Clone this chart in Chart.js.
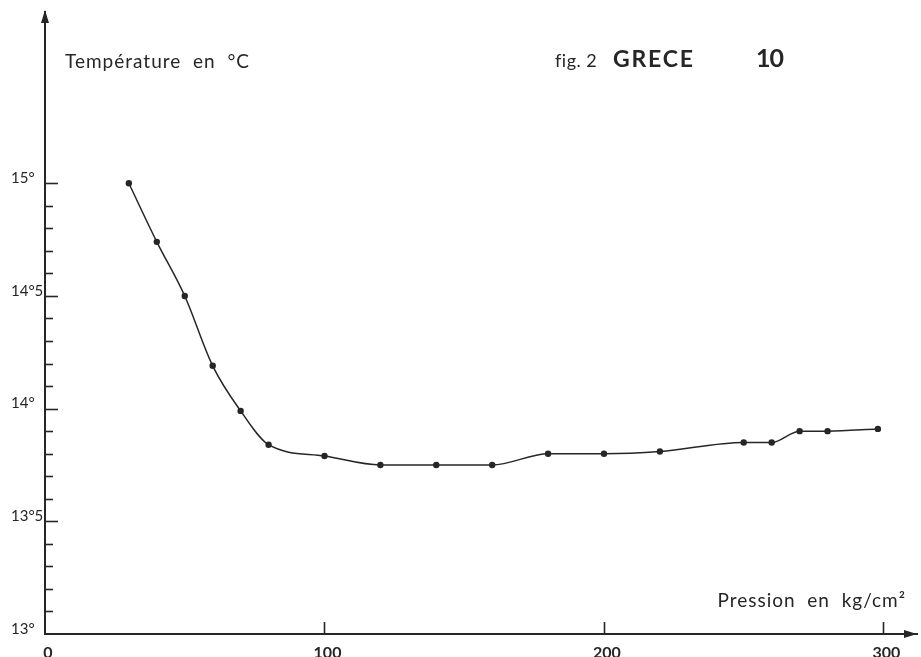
<!DOCTYPE html>
<html lang="fr">
<head>
<meta charset="utf-8">
<title>fig. 2 GRECE</title>
<script src="https://cdn.jsdelivr.net/npm/chart.js@4/dist/chart.umd.min.js"></script>
<style>
  html, body { margin: 0; padding: 0; background: #fff; overflow: hidden; }
  #wrap { position: relative; width: 921px; height: 670px; }
</style>
</head>
<body>
<div id="wrap"><canvas id="courbe"></canvas></div>
<script>
// pression (kg/cm2) / température (°C)
const pressions = [30, 40, 50, 60, 70, 80, 100, 120, 140, 160, 180, 200, 220, 250, 260, 270, 280, 298];
const temperatures = [15.0, 14.74, 14.5, 14.19, 13.99, 13.84, 13.79, 13.75, 13.75, 13.75, 13.80, 13.80, 13.81, 13.85, 13.85, 13.90, 13.90, 13.91];
const ticksPression = [0, 100, 200, 300];
const ticksTemperature = [13, 13.5, 14, 14.5, 15];

const encre = '#262626';
const police = 'Lato, "DejaVu Sans", sans-serif';

function etiquetteTemp(v) {
  const deg = Math.floor(v + 1e-9);
  return Math.abs(v - deg) < 1e-6 ? deg + '°' : deg + '°5';
}

function texte(ctx, str, x, y, font, espace) {
  ctx.font = font;
  ctx.letterSpacing = espace + 'px';
  ctx.fillText(str, x, y);
}

// graduations, flèches et textes de la planche
const habillage = {
  id: 'habillage',
  afterDraw(chart) {
    const { ctx, chartArea: ca, scales: { x, y } } = chart;
    ctx.save();
    ctx.strokeStyle = encre;
    ctx.fillStyle = encre;
    ctx.lineWidth = 1.6;

    // petites graduations tous les 0,1 degré
    for (let i = 1; i <= 20; i++) {
      const py = Math.round(y.getPixelForValue(13 + i / 10)) + 0.5;
      const len = i % 5 === 0 ? 13 : 8;
      ctx.beginPath();
      ctx.moveTo(ca.left, py);
      ctx.lineTo(ca.left + len, py);
      ctx.stroke();
    }
    // graduations pression
    ticksPression.slice(1).forEach(v => {
      const px = Math.round(x.getPixelForValue(v)) + 0.5;
      ctx.beginPath();
      ctx.moveTo(px, ca.bottom);
      ctx.lineTo(px, ca.bottom - 12);
      ctx.stroke();
    });

    // flèches
    ctx.beginPath();
    ctx.moveTo(ca.left, ca.top - 2);
    ctx.lineTo(ca.left - 4, ca.top + 11);
    ctx.lineTo(ca.left + 4, ca.top + 11);
    ctx.closePath();
    ctx.fill();
    ctx.beginPath();
    ctx.moveTo(ca.right, ca.bottom);
    ctx.lineTo(ca.right - 13, ca.bottom - 4);
    ctx.lineTo(ca.right - 13, ca.bottom + 4);
    ctx.closePath();
    ctx.fill();

    // textes
    ctx.textBaseline = 'alphabetic';
    ctx.textAlign = 'left';
    texte(ctx, 'Température  en  °C', 65, 68, '19px ' + police, 1);
    texte(ctx, 'fig. 2', 555, 67, '18px ' + police, 0.5);
    texte(ctx, 'GRECE', 613, 67, 'bold 23px ' + police, 1.8);
    texte(ctx, '10', 756, 67, 'bold 25px ' + police, -1);
    ctx.textAlign = 'right';
    texte(ctx, 'Pression  en  kg/cm²', 906, 607, '19px ' + police, 1);
    ctx.restore();
  }
};

new Chart(document.getElementById('courbe'), {
  type: 'line',
  data: {
    datasets: [{
      data: pressions.map((p, i) => ({ x: p, y: temperatures[i] })),
      borderColor: encre,
      backgroundColor: encre,
      borderWidth: 1.5,
      pointRadius: 3.2,
      pointBorderWidth: 0,
      cubicInterpolationMode: 'monotone',
      fill: false
    }]
  },
  options: {
    responsive: true,
    maintainAspectRatio: false,
    animation: false,
    layout: { padding: { left: 11, top: 12, right: 1, bottom: 0 } },
    plugins: { legend: { display: false }, tooltip: { enabled: false } },
    scales: {
      x: {
        type: 'linear',
        min: 0,
        max: 312,
        afterBuildTicks: s => { s.ticks = ticksPression.map(v => ({ value: v })); },
        afterFit: s => { s.height = 36; },
        grid: { drawOnChartArea: false, drawTicks: false },
        border: { color: encre, width: 2 },
        ticks: {
          padding: 9,
          labelOffset: 3,
          color: encre,
          font: { family: police, size: 16, weight: 'bold' },
          callback: v => String(v)
        }
      },
      y: {
        type: 'linear',
        min: 13,
        max: 15.76,
        afterBuildTicks: s => { s.ticks = ticksTemperature.map(v => ({ value: v })); },
        afterFit: s => { s.width = 34; },
        grid: { drawOnChartArea: false, drawTicks: false },
        border: { color: encre, width: 2 },
        ticks: {
          crossAlign: 'far',
          labelOffset: -5,
          color: encre,
          font: { family: police, size: 15 },
          callback: v => etiquetteTemp(v)
        }
      }
    }
  },
  plugins: [habillage]
});
</script>
</body>
</html>
